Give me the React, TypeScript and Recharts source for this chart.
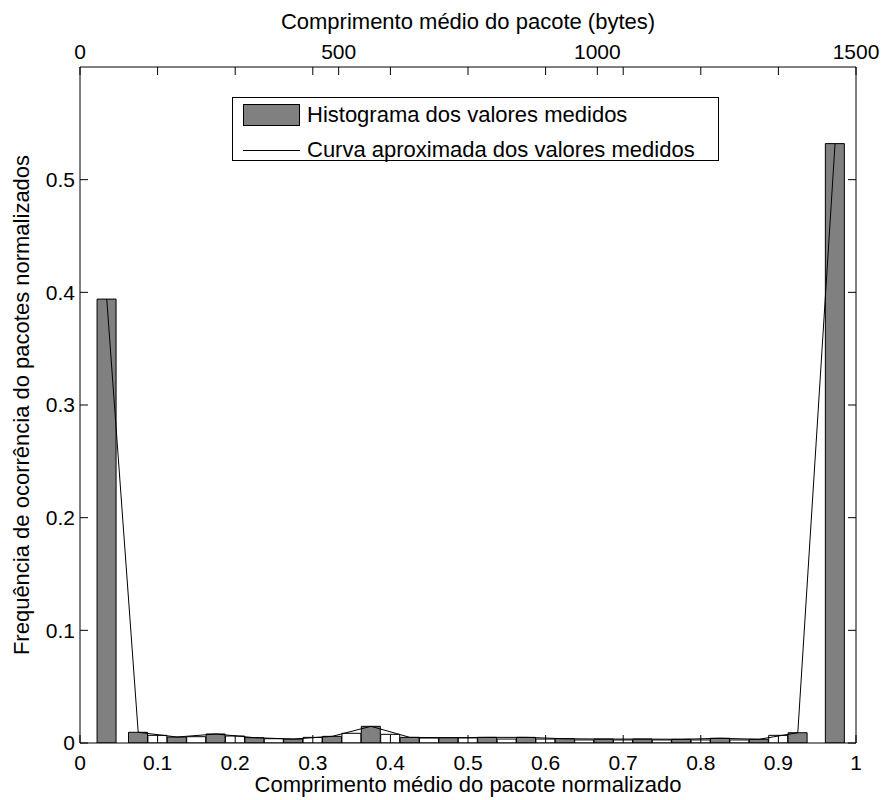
import React from 'react';
import { ComposedChart, Bar, Line, XAxis, YAxis, Cell, Legend, Label } from 'recharts';

// Gray histogram bars (centre on normalized axis, normalized frequency)
const grayX = [0.0345, 0.075, 0.125, 0.175, 0.225, 0.275, 0.325, 0.375, 0.425, 0.475, 0.525, 0.575, 0.625, 0.675, 0.725, 0.775, 0.825, 0.875, 0.925, 0.973];
const grayY = [0.394, 0.0095, 0.0053, 0.008, 0.0047, 0.0035, 0.0059, 0.0148, 0.005, 0.0047, 0.005, 0.005, 0.0038, 0.0035, 0.0035, 0.0033, 0.0042, 0.0033, 0.0091, 0.532];
// White in-between bars
const whiteX = [0.1, 0.15, 0.2, 0.25, 0.3, 0.35, 0.4, 0.45, 0.5, 0.55, 0.6, 0.65, 0.7, 0.75, 0.8, 0.85, 0.9];
const whiteY = [0.0068, 0.0056, 0.0062, 0.0038, 0.005, 0.0086, 0.0077, 0.0044, 0.0045, 0.0035, 0.0035, 0.0027, 0.0027, 0.0027, 0.0027, 0.0027, 0.0068];

const xTicks = [0, 0.1, 0.2, 0.3, 0.4, 0.5, 0.6, 0.7, 0.8, 0.9, 1];
const yTicks = [0, 0.1, 0.2, 0.3, 0.4, 0.5];
const bytesMax = 1500;
const bytesTicks = [0, 500, 1000, 1500];

const xTitle = 'Comprimento médio do pacote normalizado';
const topTitle = 'Comprimento médio do pacote (bytes)';
const yTitle = 'Frequência de ocorrência do pacotes normalizados';
const seriesNames = ['Histograma dos valores medidos', 'Curva aproximada dos valores medidos'];

type Row = { x: number; v: number; kind: 'g' | 'w'; g?: number };
const rows: Row[] = [
  ...grayX.map((x, i) => ({ x, v: grayY[i], kind: 'g' as const, g: grayY[i] })),
  ...whiteX.map((x, i) => ({ x, v: whiteY[i], kind: 'w' as const })),
].sort((a, b) => a.x - b.x);

// top axis: bytes ticks (labelled) plus mirrored normalized ticks (unlabelled), on the normalized scale
const topTicks = [...xTicks, ...bytesTicks.map((b) => b / bytesMax)]
  .filter((v, i, arr) => arr.findIndex((w) => Math.abs(w - v) < 1e-9) === i)
  .sort((a, b) => a - b);
const topLabel = (v: number) => {
  const b = Math.round(v * bytesMax);
  return bytesTicks.some((t) => Math.abs(t / bytesMax - v) < 1e-9) ? String(b) : '';
};

const FONT = '"Liberation Sans", Arial, Helvetica, sans-serif';
const GRAY = '#808080';

const renderLegend = () => (
  <div
    style={{
      position: 'relative',
      width: 487,
      height: 64,
      border: '1px solid #000',
      boxSizing: 'border-box',
      background: '#fff',
      fontFamily: FONT,
      fontSize: 22,
      color: '#000',
    }}
  >
    <div style={{ position: 'absolute', left: 10, top: 6, width: 57, height: 22, background: GRAY, border: '1px solid #000', boxSizing: 'border-box' }} />
    <div style={{ position: 'absolute', left: 74, top: 17, transform: 'translateY(-50%)', whiteSpace: 'nowrap', lineHeight: 1 }}>{seriesNames[0]}</div>
    <div style={{ position: 'absolute', left: 10, top: 52, width: 57, height: 0, borderTop: '1px solid #000' }} />
    <div style={{ position: 'absolute', left: 74, top: 52, transform: 'translateY(-50%)', whiteSpace: 'nowrap', lineHeight: 1 }}>{seriesNames[1]}</div>
  </div>
);

export default function App() {
  const tickStyle = { fill: '#000', fontSize: 21, fontFamily: FONT };
  return (
    <div style={{ position: 'absolute', left: 0, top: 0, width: 881, height: 800, background: '#fff' }}>
      <ComposedChart width={881} height={800} data={rows} margin={{ top: 0, right: 0, bottom: 0, left: 0 }}>
        <Bar xAxisId="b" yAxisId="l" dataKey="v" barSize={19} stroke="#000" strokeWidth={1} isAnimationActive={false}>
          {rows.map((r, i) => (
            <Cell key={i} fill={r.kind === 'g' ? GRAY : '#ffffff'} />
          ))}
        </Bar>
        <Line
          xAxisId="b"
          yAxisId="l"
          dataKey="g"
          type="linear"
          stroke="#000"
          strokeWidth={1}
          dot={false}
          activeDot={false}
          connectNulls
          isAnimationActive={false}
        />
        <XAxis
          xAxisId="b"
          dataKey="x"
          type="number"
          orientation="bottom"
          domain={[0, 1]}
          ticks={xTicks}
          interval={0}
          allowDataOverflow
          height={57}
          tickSize={-8}
          tickMargin={20}
          stroke="#000"
          tick={tickStyle}
        >
          <Label value={xTitle} position="insideBottom" offset={8} style={{ fill: '#000', fontSize: 22, fontFamily: FONT }} />
        </XAxis>
        <XAxis
          xAxisId="t"
          dataKey="x"
          type="number"
          orientation="top"
          domain={[0, 1]}
          ticks={topTicks}
          interval={0}
          allowDataOverflow
          height={67}
          tickSize={-8}
          tickMargin={16}
          stroke="#000"
          tick={tickStyle}
          tickFormatter={topLabel}
        >
          <Label value={topTitle} position="insideTop" offset={13} style={{ fill: '#000', fontSize: 22, fontFamily: FONT }} />
        </XAxis>
        <YAxis
          yAxisId="l"
          type="number"
          orientation="left"
          domain={[0, 0.6]}
          ticks={yTicks}
          interval={0}
          allowDataOverflow
          width={80}
          tickSize={-8}
          tickMargin={13}
          stroke="#000"
          tick={tickStyle}
        >
          <Label
            value={yTitle}
            position="insideLeft"
            offset={21}
            angle={-90}
            style={{ fill: '#000', fontSize: 22, fontFamily: FONT, textAnchor: 'middle' }}
          />
        </YAxis>
        <YAxis
          yAxisId="r"
          type="number"
          orientation="right"
          domain={[0, 0.6]}
          ticks={yTicks}
          interval={0}
          allowDataOverflow
          width={25}
          tickSize={-8}
          tickMargin={4}
          stroke="#000"
          tick={tickStyle}
          tickFormatter={() => ''}
        />
        <Legend
          layout="vertical"
          align="center"
          verticalAlign="middle"
          wrapperStyle={{ left: 232, top: 97, width: 487, height: 64 }}
          content={renderLegend}
        />
      </ComposedChart>
    </div>
  );
}
